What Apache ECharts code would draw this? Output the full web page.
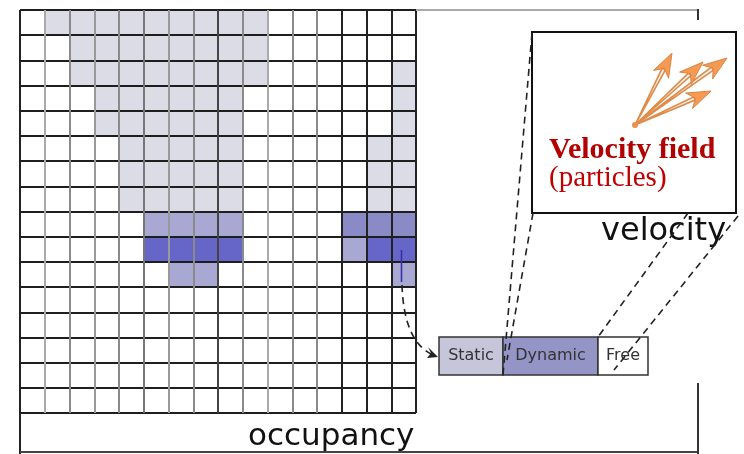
<!DOCTYPE html>
<html>
<head>
<meta charset="utf-8">
<script src="https://cdn.jsdelivr.net/npm/echarts@6/dist/echarts.min.js"></script>
<style>
html,body{margin:0;padding:0;background:#fff;}
#c{width:744px;height:454px;}
</style>
</head>
<body>
<div id="c"></div>
<script>
// ---- data ----
const columns = ['0','1','2','3','4','5','6','7','8','9','10','11','12','13','14','15'];
const rowCats = ['0','1','2','3','4','5','6','7','8','9','10','11','12','13','14','15'];
// 0 free, 1 static, 2 dynamic (light), 3 dynamic (medium), 4 dynamic (strong)
const occupancyRows = [
  '0111111111000000',
  '0011111111000000',
  '0011111111000001',
  '0001111110000001',
  '0001111110000001',
  '0000111110000011',
  '0000111110000011',
  '0000111110000011',
  '0000022220000333',
  '0000044440000244',
  '0000002200000002',
  '0000000000000000',
  '0000000000000000',
  '0000000000000000',
  '0000000000000000',
  '0000000000000000'
];
const stateColors = ['#ffffff','#dcdce6','#a8a8d2','#8a8ac6','#6666c8'];
const legendLabels = ['Static','Dynamic','Free'];
const vLineColors = ['#222','#aaa','#8a8a8a','#999','#8a8a8a','#777','#999','#8a8a8a','#444','#8a8a8a','#aaa','#8a8a8a','#8a8a8a','#222','#222','#222','#222'];

const heatData = [];
occupancyRows.forEach((row, r) => {
  row.split('').forEach((ch, c) => heatData.push([c, r, +ch]));
});

// ---- decorations ----
const dash = {stroke:'#222', lineWidth:1.6, lineDash:[7,5], fill:null};
const g = [];
// outer frame
g.push({type:'line', shape:{x1:416,y1:10,x2:698,y2:10}, style:{stroke:'#aaa',lineWidth:2}, z:50});
g.push({type:'line', shape:{x1:698,y1:9,x2:698,y2:20}, style:{stroke:'#333',lineWidth:2}, z:50});
g.push({type:'line', shape:{x1:20,y1:410,x2:20,y2:454}, style:{stroke:'#222',lineWidth:2}, z:50});
g.push({type:'line', shape:{x1:20,y1:452,x2:698,y2:452}, style:{stroke:'#444',lineWidth:2}, z:50});
g.push({type:'line', shape:{x1:698,y1:383,x2:698,y2:454}, style:{stroke:'#333',lineWidth:2}, z:50});
// velocity box
g.push({type:'rect', shape:{x:532,y:32,width:204,height:181}, style:{fill:'#fff',stroke:'#111',lineWidth:2}, z:40});
// dashed connectors
g.push({type:'line', shape:{x1:532,y1:33,x2:503,y2:375}, style:dash, z:60});
g.push({type:'line', shape:{x1:533,y1:213,x2:507,y2:360}, style:dash, z:60});
g.push({type:'line', shape:{x1:688,y1:213,x2:598,y2:337}, style:dash, z:60});
g.push({type:'line', shape:{x1:738,y1:216,x2:614,y2:370}, style:dash, z:60});
// small blue line in cell + curved arrow
g.push({type:'line', shape:{x1:401.5,y1:250,x2:401.5,y2:282}, style:{stroke:'#3434a8',lineWidth:1.6}, z:60});
g.push({type:'bezierCurve', shape:{x1:402,y1:285,cpx1:404,cpy1:345,x2:436,y2:356}, style:dash, z:60});
g.push({type:'polygon', shape:{points:[[438,357],[428,347],[431,353],[427,358]]}, style:{fill:'#222'}, z:60});
// legend cells
const legendX = [439,503,598,648];
const legendFill = ['#c6c6da','#9494c6','#ffffff'];
legendLabels.forEach((lab,i)=>{
  g.push({type:'rect', shape:{x:legendX[i],y:337,width:legendX[i+1]-legendX[i],height:38}, style:{fill:legendFill[i],stroke:'#333',lineWidth:1.5}, z:55});
  g.push({type:'text', x:(legendX[i]+legendX[i+1])/2, y:356, style:{text:lab, font:'16px "DejaVu Sans"', fill:'#333', align:'center', verticalAlign:'middle'}, z:56});
});
// orange velocity arrows
const origin = [635,125];
const tips = [[672,53],[727,58],[703,62],[711,91]];
tips.forEach(t=>{
  const dx=t[0]-origin[0], dy=t[1]-origin[1], L=Math.hypot(dx,dy);
  const ux=dx/L, uy=dy/L, nx=-uy, ny=ux;
  const bx=t[0]-24*ux, by=t[1]-24*uy;
  g.push({type:'polygon', shape:{points:[[origin[0],origin[1]],[bx+1.8*nx+6*ux,by+1.8*ny+6*uy],[bx-1.8*nx+6*ux,by-1.8*ny+6*uy]]}, style:{fill:'#f4eee8',stroke:'#e08a48',lineWidth:1.6}, z:45});
  g.push({type:'polygon', shape:{points:[[t[0],t[1]],[bx+8.5*nx,by+8.5*ny],[t[0]-17*ux,t[1]-17*uy],[bx-8.5*nx,by-8.5*ny]]}, style:{fill:'#f59a52',stroke:'#dc8443',lineWidth:1}, z:46});
});
g.push({type:'circle', shape:{cx:origin[0],cy:origin[1],r:3}, style:{fill:'#e8904c'}, z:46});
// texts
g.push({type:'text', x:549, y:150, style:{text:'Velocity field', font:'bold 30px "Liberation Serif"', fill:'#b30000', align:'left', verticalAlign:'middle'}, z:47});
g.push({type:'text', x:549, y:178, style:{text:'(particles)', font:'29px "Liberation Serif"', fill:'#c00000', align:'left', verticalAlign:'middle'}, z:47});
g.push({type:'text', x:601, y:232, style:{text:'velocity', font:'32px "DejaVu Sans"', fill:'#111', align:'left', verticalAlign:'middle'}, z:47});
g.push({type:'text', x:248, y:437, style:{text:'occupancy', font:'31px "DejaVu Sans"', fill:'#111', align:'left', verticalAlign:'middle'}, z:47});

const chart = echarts.init(document.getElementById('c'), null, {renderer:'canvas'});
chart.setOption({
  animation:false,
  backgroundColor:'#fff',
  grid:{left:20, top:10, width:396, height:403},
  xAxis:{type:'category', data:columns, z:5,
    axisLabel:{show:false}, axisTick:{show:false}, axisLine:{show:false},
    splitLine:{show:true, interval:0, lineStyle:{color:vLineColors, width:2}}},
  yAxis:{type:'category', data:rowCats, inverse:true, z:5,
    axisLabel:{show:false}, axisTick:{show:false}, axisLine:{show:false},
    splitLine:{show:true, interval:0, lineStyle:{color:'#1e1e1e', width:2}}},
  visualMap:{type:'piecewise', show:false, dimension:2,
    pieces: stateColors.map((c,i)=>({value:i, color:c}))},
  series:[{type:'heatmap', data:heatData, itemStyle:{borderWidth:0}, emphasis:{disabled:true}}],
  graphic:{elements:g}
});
</script>
</body>
</html>
